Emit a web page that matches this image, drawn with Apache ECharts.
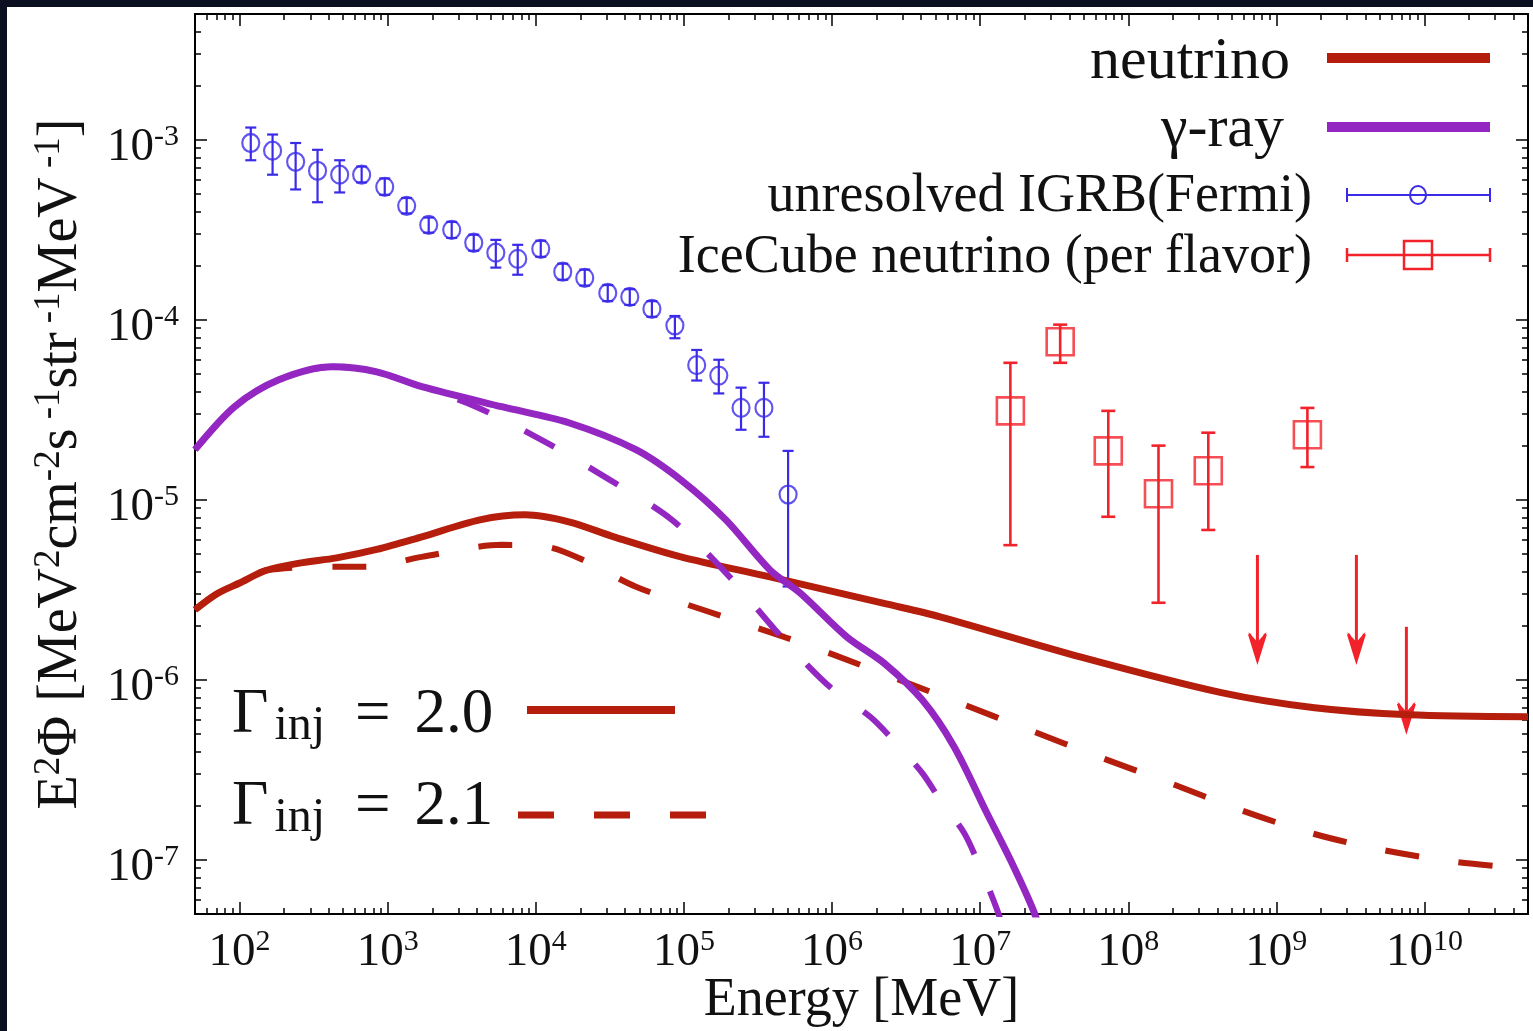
<!DOCTYPE html>
<html>
<head>
<meta charset="utf-8">
<title>Neutrino and gamma-ray background</title>
<script src="https://cdn.jsdelivr.net/npm/echarts@6/dist/echarts.min.js"></script>
<style>
  html, body { margin: 0; padding: 0; background: #0a1020; width: 1533px; height: 1031px; overflow: hidden; }
  #main { position: absolute; left: 7px; top: 7px; width: 1526px; height: 1024px; background: #fff; }
</style>
</head>
<body>
<div id="main"></div>
<script>
// axis ranges
const xMin = 50, xMax = 5e10;
const yMin = 5e-8, yMax = 5e-3;
const xMajor = [1e2, 1e3, 1e4, 1e5, 1e6, 1e7, 1e8, 1e9, 1e10];
const yMajor = [1e-7, 1e-6, 1e-5, 1e-4, 1e-3];

// neutrino, Gamma_inj = 2.0 (solid)
const nuE20 = [50, 70, 100, 150, 254, 452, 843, 1700, 4190, 8440, 16700, 33700, 95500, 381000, 2.32e6, 5.37e6, 4.74e7, 4.25e8, 1.81e9, 7.8e9, 5e10];
const nuF20 = [2.45e-6, 3.0e-6, 3.45e-6, 4.05e-6, 4.45e-6, 4.76e-6, 5.3e-6, 6.23e-6, 7.74e-6, 8.25e-6, 7.55e-6, 6.23e-6, 4.82e-6, 3.73e-6, 2.64e-6, 2.24e-6, 1.34e-6, 8.48e-7, 6.99e-7, 6.39e-7, 6.23e-7];
// neutrino, Gamma_inj = 2.1 (dashed)
const nuE21 = [50, 70, 100, 150, 452, 745, 1700, 5890, 11900, 20800, 47400, 134000, 474000, 1.02e6, 3.21e6, 7.22e6, 2.14e7, 6.37e7, 1.89e8, 5.62e8, 1.7e9, 5.05e9, 1.6e10, 5e10];
const nuF21 = [2.45e-6, 3.0e-6, 3.45e-6, 4.05e-6, 4.25e-6, 4.25e-6, 4.82e-6, 5.62e-6, 5.48e-6, 4.64e-6, 3.29e-6, 2.45e-6, 1.73e-6, 1.38e-6, 9.62e-7, 7.45e-7, 5.27e-7, 3.73e-7, 2.68e-7, 1.9e-7, 1.41e-7, 1.14e-7, 9.75e-8, 8.9e-8];
// gamma-ray, Gamma_inj = 2.0 (solid)
const gE20 = [50, 92.5, 184, 425, 843, 1700, 5890, 16700, 47400, 95500, 192000, 381000, 608000, 1.26e6, 2.24e6, 4.06e6, 6.67e6, 1.11e7, 1.6e7, 2.32e7, 2.75e7];
const gF20 = [1.9e-5, 3.29e-5, 4.64e-5, 5.48e-5, 5.14e-5, 4.25e-5, 3.29e-5, 2.68e-5, 1.9e-5, 1.29e-5, 7.74e-6, 4.08e-6, 3.04e-6, 1.73e-6, 1.24e-6, 7.74e-7, 4.25e-7, 1.82e-7, 1.0e-7, 5.08e-8, 3.16e-8];
// gamma-ray, Gamma_inj = 2.1 (dashed)
const gE21 = [50, 92.5, 184, 425, 843, 1476, 3940, 11900, 31600, 83000, 192000, 412000, 700000, 1.02e6, 1.81e6, 2.58e6, 4.06e6, 5.37e6, 7.8e6, 9.69e6, 1.28e7, 1.48e7];
const gF21 = [1.9e-5, 3.29e-5, 4.64e-5, 5.48e-5, 5.14e-5, 4.41e-5, 3.29e-5, 2.07e-5, 1.29e-5, 7.74e-6, 3.93e-6, 1.9e-6, 1.18e-6, 8.8e-7, 6.23e-7, 4.64e-7, 3.04e-7, 2.15e-7, 1.41e-7, 9.62e-8, 5.48e-8, 3.83e-8];

// unresolved IGRB (Fermi)
const fermiE = [119, 167, 239, 336, 474, 667, 955, 1343, 1892, 2705, 3810, 5370, 7550, 10800, 15200, 21400, 30600, 43100, 60800, 86900, 122000, 172000, 243000, 347000, 505000];
const fermiF = [9.6e-4, 8.7e-4, 7.55e-4, 6.73e-4, 6.4e-4, 6.4e-4, 5.48e-4, 4.3e-4, 3.37e-4, 3.16e-4, 2.68e-4, 2.36e-4, 2.18e-4, 2.48e-4, 1.85e-4, 1.71e-4, 1.41e-4, 1.34e-4, 1.15e-4, 9.3e-5, 5.6e-5, 4.9e-5, 3.24e-5, 3.24e-5, 1.07e-5];
const fermiHi = [1.17e-3, 1.07e-3, 9.6e-4, 8.8e-4, 7.7e-4, 7.1e-4, 6.1e-4, 4.75e-4, 3.7e-4, 3.5e-4, 2.97e-4, 2.78e-4, 2.61e-4, 2.75e-4, 2.05e-4, 1.9e-4, 1.56e-4, 1.48e-4, 1.27e-4, 1.05e-4, 6.8e-5, 6.0e-5, 4.2e-5, 4.47e-5, 1.87e-5];
const fermiLo = [7.7e-4, 6.4e-4, 5.3e-4, 4.5e-4, 5.1e-4, 5.8e-4, 4.95e-4, 3.9e-4, 3.05e-4, 2.85e-4, 2.42e-4, 1.95e-4, 1.78e-4, 2.24e-4, 1.67e-4, 1.55e-4, 1.27e-4, 1.21e-4, 1.04e-4, 7.9e-5, 4.6e-5, 3.9e-5, 2.45e-5, 2.24e-5, 3.3e-6];

// IceCube neutrino (per flavor)
const iceE = [1.6e7, 3.47e7, 7.33e7, 1.6e8, 3.47e8, 1.62e9];
const iceF = [3.12e-5, 7.55e-5, 1.87e-5, 1.08e-5, 1.45e-5, 2.3e-5];
const iceHi = [5.77e-5, 9.4e-5, 3.12e-5, 2.0e-5, 2.36e-5, 3.24e-5];
const iceLo = [5.6e-6, 5.77e-5, 8.05e-6, 2.68e-6, 6.8e-6, 1.52e-5];
// IceCube upper limits
const ulE = [7.45e8, 3.47e9, 7.55e9];
const ulTop = [4.94e-6, 4.94e-6, 1.97e-6];
const ulTip = [1.24e-6, 1.24e-6, 5.08e-7];

const serif = '"Liberation Serif", "Times New Roman", serif';
const black = '#111';
const nuColor = '#b51d0c';
const gammaColor = '#9426c2';
const fermiColor = '#3b2be8';
const iceColor = '#f2222b';

function minorTicks(lo, hi) {
  const out = [];
  for (let e = Math.floor(Math.log10(lo)); e <= Math.ceil(Math.log10(hi)); e++) {
    for (let k = 2; k <= 9; k++) {
      const v = k * Math.pow(10, e);
      if (v > lo && v < hi) out.push(v);
    }
  }
  return out;
}
const xMinor = minorTicks(xMin, xMax);
const yMinor = minorTicks(yMin, yMax);

const pow10 = v => '{b|10}{s|' + Math.round(Math.log10(v)) + '}';
const labelRich = {
  b: { fontFamily: serif, fontSize: 47, color: black, lineHeight: 52 },
  s: { fontFamily: serif, fontSize: 30, color: black, lineHeight: 30, verticalAlign: 'top' }
};
const tickLine = { color: '#000', width: 1.5 };

function logAxis(dim, pos, ticks, len, extra) {
  const ax = {
    type: 'log', logBase: 10, position: pos,
    min: dim === 'x' ? xMin : yMin,
    max: dim === 'x' ? xMax : yMax,
    axisLine: { show: len > 8, lineStyle: { color: '#000', width: 2 } },
    axisTick: { show: true, inside: true, length: len, customValues: ticks, lineStyle: tickLine },
    axisLabel: { show: false },
    splitLine: { show: false },
    minorTick: { show: false }
  };
  return Object.assign(ax, extra || {});
}

function zip3(a, b, c) { return a.map((v, i) => [v, b[i], c[i]]); }
function zip2(a, b) { return a.map((v, i) => [v, b[i]]); }

function errorBars(color, cap, width) {
  return function (params, api) {
    const hi = api.coord([api.value(0), api.value(2)]);
    const lo = api.coord([api.value(0), api.value(1)]);
    return {
      type: 'group',
      children: [
        { type: 'line', shape: { x1: hi[0], y1: hi[1], x2: lo[0], y2: lo[1] }, style: { stroke: color, lineWidth: width } },
        { type: 'line', shape: { x1: hi[0] - cap, y1: hi[1], x2: hi[0] + cap, y2: hi[1] }, style: { stroke: color, lineWidth: width } },
        { type: 'line', shape: { x1: lo[0] - cap, y1: lo[1], x2: lo[0] + cap, y2: lo[1] }, style: { stroke: color, lineWidth: width } }
      ]
    };
  };
}

function upperLimit(params, api) {
  const top = api.coord([api.value(0), api.value(1)]);
  const tip = api.coord([api.value(0), api.value(2)]);
  return {
    type: 'group',
    children: [
      { type: 'line', shape: { x1: top[0], y1: top[1], x2: tip[0], y2: tip[1] - 8 }, style: { stroke: iceColor, lineWidth: 3 } },
      { type: 'polygon', shape: { points: [[tip[0] - 9, tip[1] - 31], [tip[0], tip[1] - 21], [tip[0] + 9, tip[1] - 31], [tip[0], tip[1]]] }, style: { fill: iceColor } },
      { type: 'polyline', shape: { points: [[tip[0] - 8, tip[1] - 29], [tip[0], tip[1] - 3], [tip[0] + 8, tip[1] - 29]] }, style: { stroke: iceColor, lineWidth: 3, fill: 'none' } }
    ]
  };
}

function curve(xs, ys, color, dashed) {
  return {
    type: 'line', data: zip2(xs, ys), symbol: 'none', smooth: 0.3, clip: true,
    lineStyle: { color: color, width: dashed ? 6 : 7, type: dashed ? [34, 40] : 'solid', cap: 'butt' },
    silent: true
  };
}

const subRich = {
  g: { fontFamily: serif, fontSize: 63, fill: black, lineHeight: 70 },
  s: { fontFamily: serif, fontSize: 48, fill: black, lineHeight: 48, verticalAlign: 'bottom', padding: [0, 0, 0, 6] },
  e: { fontFamily: serif, fontSize: 63, fill: black, lineHeight: 70, padding: [0, 24, 0, 30] }
};

const chart = echarts.init(document.getElementById('main'));
chart.setOption({
  animation: false,
  backgroundColor: '#fff',
  grid: { left: 188, right: 5, top: 7, bottom: 117, outerBoundsMode: 'none', containLabel: false },
  xAxis: [
    logAxis('x', 'bottom', xMajor, 12, {
      axisLabel: { show: true, customValues: xMajor, margin: 13, formatter: pow10, rich: labelRich },
      name: 'Energy [MeV]', nameLocation: 'middle', nameGap: 60, nameMoveOverlap: false,
      nameTextStyle: { fontFamily: serif, fontSize: 54, color: black }
    }),
    logAxis('x', 'bottom', xMinor, 6),
    logAxis('x', 'top', xMajor, 12),
    logAxis('x', 'top', xMinor, 6)
  ],
  yAxis: [
    logAxis('y', 'left', yMajor, 12, {
      axisLabel: { show: true, customValues: yMajor, margin: 16, formatter: pow10, rich: labelRich, padding: [16, 0, 0, 0] },
      name: '{m|E}{p|2}{m|Φ [MeV}{p|2}{m|cm}{p|-2}{m|s}{p| -1}{m|str}{p| -1}{m|MeV}{p| -1}{m|]}',
      nameLocation: 'middle', nameRotate: 90, nameGap: 104, nameMoveOverlap: false,
      nameTextStyle: {
        rich: {
          m: { fontFamily: serif, fontSize: 56, color: black, lineHeight: 60 },
          p: { fontFamily: serif, fontSize: 37, color: black, lineHeight: 36, verticalAlign: 'top' }
        }
      }
    }),
    logAxis('y', 'left', yMinor, 6),
    logAxis('y', 'right', yMajor, 12),
    logAxis('y', 'right', yMinor, 6)
  ],
  series: [
    {
      type: 'custom', renderItem: errorBars(fermiColor, 5.5, 2.2), clip: true, silent: true,
      data: zip3(fermiE, fermiLo, fermiHi), encode: { x: 0, y: [1, 2] }
    },
    curve(nuE21, nuF21, nuColor, true),
    curve(nuE20, nuF20, nuColor, false),
    curve(gE21, gF21, gammaColor, true),
    curve(gE20, gF20, gammaColor, false),
    {
      type: 'scatter', data: zip2(fermiE, fermiF), symbol: 'circle', symbolSize: [17, 18], silent: true,
      itemStyle: { color: 'rgba(0,0,0,0)', borderColor: fermiColor, borderWidth: 2.2 }
    },
    {
      type: 'custom', renderItem: errorBars(iceColor, 7, 2.6), clip: true, silent: true,
      data: zip3(iceE, iceLo, iceHi), encode: { x: 0, y: [1, 2] }
    },
    {
      type: 'scatter', data: zip2(iceE, iceF), symbol: 'rect', symbolSize: 27, silent: true,
      itemStyle: { color: 'rgba(0,0,0,0)', borderColor: iceColor, borderWidth: 2.6 }
    },
    {
      type: 'custom', renderItem: upperLimit, clip: true, silent: true,
      data: zip3(ulE, ulTop, ulTip), encode: { x: 0, y: [1, 2] }
    }
  ],
  graphic: [
    // legend, top right
    { type: 'text', x: 1283, y: 55, style: { text: 'neutrino', font: '60px ' + serif, fill: black, align: 'right', verticalAlign: 'middle' } },
    { type: 'line', shape: { x1: 1320, y1: 51, x2: 1483, y2: 51 }, style: { stroke: nuColor, lineWidth: 10 } },
    { type: 'text', x: 1277, y: 123, style: { text: 'γ-ray', font: '60px ' + serif, fill: black, align: 'right', verticalAlign: 'middle' } },
    { type: 'line', shape: { x1: 1320, y1: 120, x2: 1483, y2: 120 }, style: { stroke: gammaColor, lineWidth: 10 } },
    { type: 'text', x: 1305, y: 190, style: { text: 'unresolved IGRB(Fermi)', font: '54px ' + serif, fill: black, align: 'right', verticalAlign: 'middle' } },
    { type: 'line', shape: { x1: 1340, y1: 188, x2: 1483, y2: 188 }, style: { stroke: fermiColor, lineWidth: 2 } },
    { type: 'line', shape: { x1: 1340, y1: 181, x2: 1340, y2: 195 }, style: { stroke: fermiColor, lineWidth: 2 } },
    { type: 'line', shape: { x1: 1483, y1: 181, x2: 1483, y2: 195 }, style: { stroke: fermiColor, lineWidth: 2 } },
    { type: 'ellipse', shape: { cx: 1411, cy: 188, rx: 8, ry: 9 }, style: { fill: 'none', stroke: fermiColor, lineWidth: 2 } },
    { type: 'text', x: 1305, y: 251, style: { text: 'IceCube neutrino (per flavor)', font: '54px ' + serif, fill: black, align: 'right', verticalAlign: 'middle' } },
    { type: 'line', shape: { x1: 1340, y1: 248, x2: 1483, y2: 248 }, style: { stroke: iceColor, lineWidth: 2.5 } },
    { type: 'line', shape: { x1: 1340, y1: 241, x2: 1340, y2: 255 }, style: { stroke: iceColor, lineWidth: 2.5 } },
    { type: 'line', shape: { x1: 1483, y1: 241, x2: 1483, y2: 255 }, style: { stroke: iceColor, lineWidth: 2.5 } },
    { type: 'rect', shape: { x: 1397, y: 234, width: 28, height: 28 }, style: { fill: 'none', stroke: iceColor, lineWidth: 2.5 } },
    // legend, bottom left
    { type: 'text', x: 225, y: 708, style: { text: '{g|Γ}{s|inj}{e|=}{g|2.0}', verticalAlign: 'middle', rich: subRich } },
    { type: 'line', shape: { x1: 520, y1: 703, x2: 668, y2: 703 }, style: { stroke: nuColor, lineWidth: 8 } },
    { type: 'text', x: 225, y: 800, style: { text: '{g|Γ}{s|inj}{e|=}{g|2.1}', verticalAlign: 'middle', rich: subRich } },
    { type: 'line', shape: { x1: 511, y1: 808, x2: 701, y2: 808 }, style: { stroke: nuColor, lineWidth: 7, lineDash: [36, 40] } }
  ]
});
</script>
</body>
</html>
